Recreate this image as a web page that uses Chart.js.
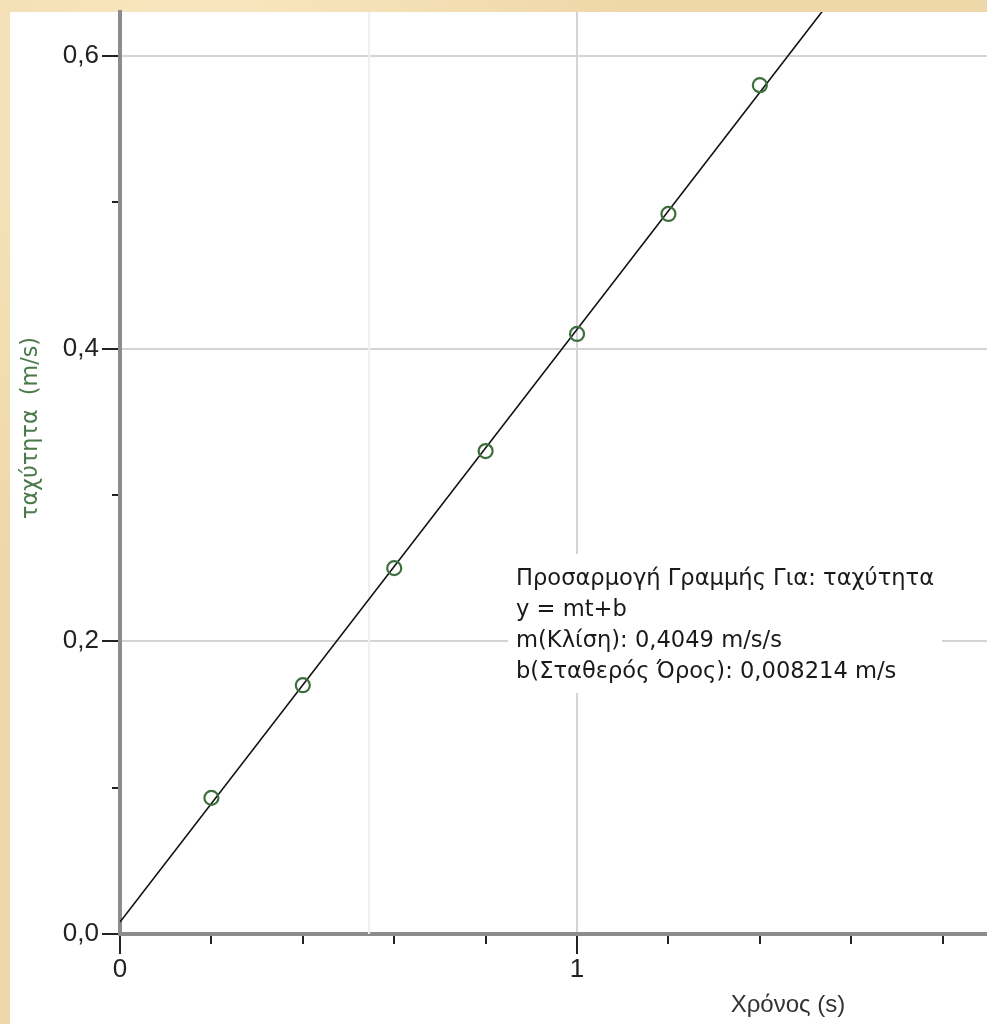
<!DOCTYPE html>
<html>
<head>
<meta charset="utf-8">
<script src="https://cdn.jsdelivr.net/npm/chart.js@4.4.1/dist/chart.umd.min.js"></script>
<style>
  html, body { margin:0; padding:0; }
  body {
    width:987px; height:1024px; overflow:hidden; position:relative;
    background-color:#eed7a8;
    background-image:
      radial-gradient(ellipse at 20% 10%, rgba(255,240,205,0.7) 0%, rgba(255,240,205,0) 40%),
      radial-gradient(ellipse at 80% 60%, rgba(220,190,140,0.5) 0%, rgba(220,190,140,0) 45%),
      radial-gradient(ellipse at 50% 95%, rgba(250,230,190,0.6) 0%, rgba(250,230,190,0) 35%);
  }
  #panel { position:absolute; left:10px; top:12px; width:977px; height:1012px; background:#ffffff; }
  #c { position:absolute; left:0; top:0; }
</style>
</head>
<body>
<div id="panel"></div>
<canvas id="c" width="987" height="1024"></canvas>
<script>
// ---- data ----
const timeValues  = [0.2, 0.4, 0.6, 0.8, 1.0, 1.2, 1.4];
const speedValues = [0.093, 0.170, 0.250, 0.330, 0.410, 0.492, 0.580];

const fitTimes  = [0, 1.6];
const fitSpeeds = [0.0082, 0.6561];

const cursorTimes  = [0.545, 0.545];
const cursorSpeeds = [0, 0.63];

const yTickValues = [0, 0.1, 0.2, 0.3, 0.4, 0.5, 0.6];
const yTickLabels = ['0,0', '', '0,2', '', '0,4', '', '0,6'];
const xTickValues = [0, 0.2, 0.4, 0.6, 0.8, 1.0, 1.2, 1.4, 1.6, 1.8];
const xTickLabels = ['0', '', '', '', '', '1', '', '', '', ''];

const yTitle = 'ταχύτητα  (m/s)';
const xTitle = 'Χρόνος (s)';
const fitLines = [
  'Προσαρμογή Γραμμής Για: ταχύτητα',
  'y = mt+b',
  'm(Κλίση): 0,4049 m/s/s',
  'b(Σταθερός Όρος): 0,008214 m/s'
];

const FONT = '"Liberation Sans", Arial, sans-serif';
const FONT2 = '"DejaVu Sans", Verdana, sans-serif';

const toXY = (xs, ys) => xs.map((x, i) => ({ x: x, y: ys[i] }));

const decorPlugin = {
  id: 'decor',
  beforeDatasetsDraw(chart) {
    const ctx = chart.ctx;
    ctx.save();
    ctx.fillStyle = '#ffffff';
    ctx.fillRect(508, 554, 434, 139);
    ctx.restore();
  },
  afterDraw(chart) {
    const ctx = chart.ctx;
    const xs = chart.scales.x, ys = chart.scales.y;
    const area = chart.chartArea;
    ctx.save();
    ctx.strokeStyle = '#222222';
    ctx.lineWidth = 2;
    // y tick marks
    yTickValues.forEach((v, i) => {
      const py = Math.round(ys.getPixelForValue(v));
      const major = yTickLabels[i] !== '';
      ctx.beginPath();
      ctx.moveTo(area.left - (major ? 18 : 8), py);
      ctx.lineTo(area.left - 2, py);
      ctx.stroke();
    });
    // x tick marks
    xTickValues.forEach((v, i) => {
      const px = Math.round(xs.getPixelForValue(v));
      const major = xTickLabels[i] !== '';
      ctx.beginPath();
      ctx.moveTo(px, area.bottom + 2);
      ctx.lineTo(px, area.bottom + (major ? 20 : 10));
      ctx.stroke();
    });
    // fit annotation text
    ctx.fillStyle = '#1a1a1a';
    ctx.font = '22.6px ' + FONT2;
    ctx.textAlign = 'left';
    ctx.textBaseline = 'alphabetic';
    fitLines.forEach((t, i) => ctx.fillText(t, 516, 585 + i * 31));
    // x title
    ctx.fillStyle = '#333333';
    ctx.font = '24px ' + FONT;
    ctx.textAlign = 'center';
    ctx.textBaseline = 'middle';
    ctx.fillText(xTitle, 788, 1005);
    // y title
    ctx.translate(31, 428);
    ctx.rotate(-Math.PI / 2);
    ctx.fillStyle = '#4a7a4a';
    ctx.font = '22.3px ' + FONT2;
    ctx.fillText(yTitle, 0, 0);
    ctx.restore();
  }
};

new Chart(document.getElementById('c'), {
  type: 'scatter',
  data: {
    datasets: [
      {
        label: 'ταχύτητα',
        data: toXY(timeValues, speedValues),
        showLine: false,
        pointStyle: 'circle',
        pointRadius: 7,
        borderWidth: 2.2,
        borderColor: '#3d6f3d',
        backgroundColor: 'rgba(0,0,0,0)',
        order: 0
      },
      {
        label: 'fit',
        data: toXY(fitTimes, fitSpeeds),
        showLine: true,
        pointRadius: 0,
        borderColor: '#111111',
        borderWidth: 1.6,
        order: 1
      },
      {
        label: 'cursor',
        data: toXY(cursorTimes, cursorSpeeds),
        showLine: true,
        pointRadius: 0,
        borderColor: '#efefef',
        borderWidth: 2,
        order: 2
      }
    ]
  },
  options: {
    responsive: false,
    animation: false,
    events: [],
    layout: { autoPadding: false, padding: { left: 0, top: 12, right: 0, bottom: 0 } },
    plugins: { legend: { display: false }, tooltip: { enabled: false } },
    scales: {
      x: {
        type: 'linear', min: 0, max: 1.897,
        afterBuildTicks: s => { s.ticks = xTickValues.map(v => ({ value: v })); },
        afterFit: s => { s.height = 90; s.paddingLeft = 0; s.paddingRight = 0; },
        grid: {
          drawTicks: false, lineWidth: 2,
          color: c => (c.tick && xTickLabels[c.index] !== '' && c.tick.value > 0) ? '#d4d4d4' : 'rgba(0,0,0,0)'
        },
        border: { color: '#8c8c8c', width: 4 },
        ticks: {
          autoSkip: false, maxRotation: 0, padding: 20,
          color: '#222222', font: { family: FONT, size: 26 },
          callback: (v, i) => xTickLabels[i]
        }
      },
      y: {
        type: 'linear', min: 0, max: 0.63,
        afterBuildTicks: s => { s.ticks = yTickValues.map(v => ({ value: v })); },
        afterFit: s => { s.width = 120; s.paddingTop = 0; s.paddingBottom = 0; },
        grid: {
          drawTicks: false, lineWidth: 2,
          color: c => (c.tick && yTickLabels[c.index] !== '' && c.tick.value > 0) ? '#d4d4d4' : 'rgba(0,0,0,0)'
        },
        border: { color: '#8c8c8c', width: 4 },
        ticks: {
          autoSkip: false, padding: 21,
          color: '#222222', font: { family: FONT, size: 26 },
          callback: (v, i) => yTickLabels[i]
        }
      }
    }
  },
  plugins: [decorPlugin]
});
</script>
</body>
</html>
